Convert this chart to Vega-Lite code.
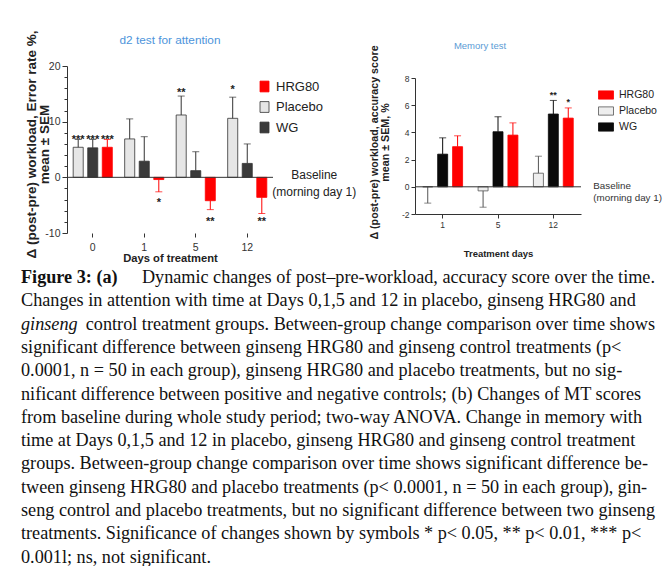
{
  "$schema": "https://vega.github.io/schema/vega-lite/v6.json",
  "background": "white",
  "padding": {"left": 21, "top": 30, "right": 2, "bottom": 0},
  "config": {
    "view": {"stroke": null},
    "font": "Liberation Sans",
    "axis": {"domainColor": "#333333", "tickColor": "#333333", "labelColor": "#333333", "titleColor": "#222222", "labelFont": "Liberation Sans", "titleFont": "Liberation Sans", "grid": false, "labelOverlap": false},
    "legend": {"labelFont": "Liberation Sans", "labelColor": "#222222"}
  },
  "datasets": {
    "att": [
      {"day": "0", "grp": "Placebo", "mean": 5.4, "err": 6.8, "star": "***", "stary": 7.5},
      {"day": "0", "grp": "WG", "mean": 5.3, "err": 6.8, "star": "***", "stary": 7.5},
      {"day": "0", "grp": "HRG80", "mean": 5.4, "err": 6.8, "star": "***", "stary": 7.5},
      {"day": "1", "grp": "Placebo", "mean": 6.9, "err": 10.5, "star": "", "stary": null},
      {"day": "1", "grp": "WG", "mean": 2.9, "err": 7.3, "star": "", "stary": null},
      {"day": "1", "grp": "HRG80", "mean": -0.4, "err": -2.6, "star": "*", "stary": -3.9},
      {"day": "5", "grp": "Placebo", "mean": 11.2, "err": 14.6, "star": "**", "stary": 15.8},
      {"day": "5", "grp": "WG", "mean": 1.2, "err": 4.6, "star": "", "stary": null},
      {"day": "5", "grp": "HRG80", "mean": -4.2, "err": -5.8, "star": "**", "stary": -7.3},
      {"day": "12", "grp": "Placebo", "mean": 10.6, "err": 14.4, "star": "*", "stary": 16.4},
      {"day": "12", "grp": "WG", "mean": 2.5, "err": 6.0, "star": "", "stary": null},
      {"day": "12", "grp": "HRG80", "mean": -3.6, "err": -6.5, "star": "**", "stary": -7.3}
    ],
    "mem": [
      {"day": "1", "grp": "Placebo", "mean": 0, "err": -1.2, "star": "", "stary": null},
      {"day": "1", "grp": "WG", "mean": 2.4, "err": 3.6, "star": "", "stary": null},
      {"day": "1", "grp": "HRG80", "mean": 2.95, "err": 3.75, "star": "", "stary": null},
      {"day": "5", "grp": "Placebo", "mean": -0.3, "err": -1.5, "star": "", "stary": null},
      {"day": "5", "grp": "WG", "mean": 4.05, "err": 5.15, "star": "", "stary": null},
      {"day": "5", "grp": "HRG80", "mean": 3.8, "err": 4.7, "star": "", "stary": null},
      {"day": "12", "grp": "Placebo", "mean": 1.0, "err": 2.25, "star": "", "stary": null},
      {"day": "12", "grp": "WG", "mean": 5.35, "err": 6.35, "star": "**", "stary": 6.95},
      {"day": "12", "grp": "HRG80", "mean": 5.05, "err": 5.8, "star": "*", "stary": 6.4}
    ],
    "cap": [
      {"line": 1, "seg": "Figure 3: (a)", "style": "bold", "side": 0},
      {"line": 1, "seg": "Dynamic changes of post–pre-workload, accuracy score over the time.", "style": "normal", "side": 1},
      {"line": 2, "seg": "Changes in attention with time at Days 0,1,5 and 12 in placebo, ginseng HRG80 and", "style": "normal", "side": 0},
      {"line": 3, "seg": "ginseng", "style": "italic", "side": 0},
      {"line": 3, "seg": "control treatment groups. Between-group change comparison over time shows", "style": "normal", "side": 1},
      {"line": 4, "seg": "significant difference between ginseng HRG80 and ginseng control treatments (p<", "style": "normal", "side": 0},
      {"line": 5, "seg": "0.0001, n = 50 in each group), ginseng HRG80 and placebo treatments, but no sig-", "style": "normal", "side": 0},
      {"line": 6, "seg": "nificant difference between positive and negative controls; (b) Changes of MT scores", "style": "normal", "side": 0},
      {"line": 7, "seg": "from baseline during whole study period; two-way ANOVA. Change in memory with", "style": "normal", "side": 0},
      {"line": 8, "seg": "time at Days 0,1,5 and 12 in placebo, ginseng HRG80 and ginseng control treatment", "style": "normal", "side": 0},
      {"line": 9, "seg": "groups. Between-group change comparison over time shows significant difference be-", "style": "normal", "side": 0},
      {"line": 10, "seg": "tween ginseng HRG80 and placebo treatments (p< 0.0001, n = 50 in each group), gin-", "style": "normal", "side": 0},
      {"line": 11, "seg": "seng control and placebo treatments, but no significant difference between two ginseng", "style": "normal", "side": 0},
      {"line": 12, "seg": "treatments. Significance of changes shown by symbols * p< 0.05, ** p< 0.01, *** p<", "style": "normal", "side": 0},
      {"line": 13, "seg": "0.001l; ns, not significant.", "style": "normal", "side": 0}
    ]
  },
  "hconcat": [
    {
      "width": 206,
      "height": 167,
      "title": {"text": "d2 test for attention", "color": "#4d94db", "fontSize": 11.8, "fontWeight": "normal", "font": "Liberation Sans", "offset": -17},
      "layer": [
        {
          "data": {"name": "att"},
          "layer": [
            {
              "mark": {"type": "bar", "strokeWidth": 0.8},
              "encoding": {
                "x": {"field": "day", "type": "nominal", "sort": ["0", "1", "5", "12"], "scale": {"paddingInner": 0.24, "paddingOuter": 0.12}, "title": "Days of treatment", "axis": {"domain": false, "labelAngle": 0, "labelFontSize": 10.5, "tickSize": 4, "labelPadding": 5, "titleFontSize": 11.2, "titleFontWeight": "bold", "titlePadding": 0}},
                "xOffset": {"field": "grp", "type": "nominal", "sort": ["Placebo", "WG", "HRG80"], "scale": {"paddingInner": 0.31, "paddingOuter": 0}},
                "y": {"field": "mean", "type": "quantitative", "scale": {"domain": [-10, 20], "nice": false}, "title": ["Δ (post-pre) workload, Error rate %,", "mean ± SEM"], "axis": {"values": [-10, -8, -6, -4, -2, 0, 2, 4, 6, 8, 10, 12, 14, 16, 18, 20], "tickCount": 40, "labelExpr": "datum.value % 10 === 0 ? '' + datum.value : ''", "labelOverlap": false, "tickSize": {"condition": {"test": "datum.value % 10 === 0", "value": 5}, "value": 3}, "labelFontSize": 10.5, "labelPadding": 2, "titleFontSize": 13.5, "titleFontWeight": "bold", "titleLineHeight": 13, "titleBaseline": "top", "titleX": -43, "titleY": 78}},
                "color": {"field": "grp", "type": "nominal", "scale": {"domain": ["HRG80", "Placebo", "WG"], "range": ["#ff0000", "#e6e6e6", "#3a3a3a"]}, "legend": {"orient": "none", "legendX": 191, "legendY": 14, "title": null, "symbolType": "M-1,-1.2H1V1.2H-1Z", "symbolSize": 81, "labelFontSize": 13, "rowPadding": 5.5, "labelOffset": 5, "symbolStrokeWidth": 0.8}},
                "stroke": {"field": "grp", "type": "nominal", "scale": {"domain": ["HRG80", "Placebo", "WG"], "range": ["#ff0000", "#333333", "#333333"]}, "legend": {"orient": "none", "legendX": 191, "legendY": 14, "title": null, "symbolType": "M-1,-1.2H1V1.2H-1Z", "symbolSize": 81, "labelFontSize": 13, "rowPadding": 5.5, "labelOffset": 5, "symbolStrokeWidth": 0.8}}
              }
            },
            {
              "mark": {"type": "rule", "strokeWidth": 1},
              "encoding": {
                "x": {"field": "day", "type": "nominal", "sort": ["0", "1", "5", "12"], "scale": {"paddingInner": 0.24, "paddingOuter": 0.12}, "title": "Days of treatment", "axis": {"domain": false, "labelAngle": 0, "labelFontSize": 10.5, "tickSize": 4, "labelPadding": 5, "titleFontSize": 11.2, "titleFontWeight": "bold", "titlePadding": 0}},
                "xOffset": {"field": "grp", "type": "nominal", "sort": ["Placebo", "WG", "HRG80"], "scale": {"paddingInner": 0.31, "paddingOuter": 0}},
                "y": {"field": "mean", "type": "quantitative", "scale": {"domain": [-10, 20], "nice": false}, "title": ["Δ (post-pre) workload, Error rate %,", "mean ± SEM"], "axis": {"values": [-10, -8, -6, -4, -2, 0, 2, 4, 6, 8, 10, 12, 14, 16, 18, 20], "tickCount": 40, "labelExpr": "datum.value % 10 === 0 ? '' + datum.value : ''", "labelOverlap": false, "tickSize": {"condition": {"test": "datum.value % 10 === 0", "value": 5}, "value": 3}, "labelFontSize": 10.5, "labelPadding": 2, "titleFontSize": 13.5, "titleFontWeight": "bold", "titleLineHeight": 13, "titleBaseline": "top", "titleX": -43, "titleY": 78}},
                "y2": {"field": "err"},
                "stroke": {"field": "grp", "type": "nominal", "scale": {"domain": ["HRG80", "Placebo", "WG"], "range": ["#ff0000", "#333333", "#333333"]}, "legend": {"orient": "none", "legendX": 191, "legendY": 14, "title": null, "symbolType": "M-1,-1.2H1V1.2H-1Z", "symbolSize": 81, "labelFontSize": 13, "rowPadding": 5.5, "labelOffset": 5, "symbolStrokeWidth": 0.8}}
              }
            },
            {
              "mark": {"type": "tick", "thickness": 1, "size": 7},
              "encoding": {
                "x": {"field": "day", "type": "nominal", "sort": ["0", "1", "5", "12"], "scale": {"paddingInner": 0.24, "paddingOuter": 0.12}, "title": "Days of treatment", "axis": {"domain": false, "labelAngle": 0, "labelFontSize": 10.5, "tickSize": 4, "labelPadding": 5, "titleFontSize": 11.2, "titleFontWeight": "bold", "titlePadding": 0}},
                "xOffset": {"field": "grp", "type": "nominal", "sort": ["Placebo", "WG", "HRG80"], "scale": {"paddingInner": 0.31, "paddingOuter": 0}},
                "y": {"field": "err", "type": "quantitative", "scale": {"domain": [-10, 20], "nice": false}, "title": ["Δ (post-pre) workload, Error rate %,", "mean ± SEM"], "axis": {"values": [-10, -8, -6, -4, -2, 0, 2, 4, 6, 8, 10, 12, 14, 16, 18, 20], "tickCount": 40, "labelExpr": "datum.value % 10 === 0 ? '' + datum.value : ''", "labelOverlap": false, "tickSize": {"condition": {"test": "datum.value % 10 === 0", "value": 5}, "value": 3}, "labelFontSize": 10.5, "labelPadding": 2, "titleFontSize": 13.5, "titleFontWeight": "bold", "titleLineHeight": 13, "titleBaseline": "top", "titleX": -43, "titleY": 78}},
                "fill": {"field": "grp", "type": "nominal", "scale": {"domain": ["HRG80", "Placebo", "WG"], "range": ["#ff0000", "#333333", "#333333"]}, "legend": null}
              }
            },
            {
              "transform": [{"filter": "datum.star !== ''"}],
              "mark": {"type": "text", "fontSize": 11, "fontWeight": "bold", "color": "#222222", "baseline": "alphabetic", "dy": 7},
              "encoding": {
                "x": {"field": "day", "type": "nominal", "sort": ["0", "1", "5", "12"], "scale": {"paddingInner": 0.24, "paddingOuter": 0.12}, "title": "Days of treatment", "axis": {"domain": false, "labelAngle": 0, "labelFontSize": 10.5, "tickSize": 4, "labelPadding": 5, "titleFontSize": 11.2, "titleFontWeight": "bold", "titlePadding": 0}},
                "xOffset": {"field": "grp", "type": "nominal", "sort": ["Placebo", "WG", "HRG80"], "scale": {"paddingInner": 0.31, "paddingOuter": 0}},
                "y": {"field": "stary", "type": "quantitative", "scale": {"domain": [-10, 20], "nice": false}, "title": ["Δ (post-pre) workload, Error rate %,", "mean ± SEM"], "axis": {"values": [-10, -8, -6, -4, -2, 0, 2, 4, 6, 8, 10, 12, 14, 16, 18, 20], "tickCount": 40, "labelExpr": "datum.value % 10 === 0 ? '' + datum.value : ''", "labelOverlap": false, "tickSize": {"condition": {"test": "datum.value % 10 === 0", "value": 5}, "value": 3}, "labelFontSize": 10.5, "labelPadding": 2, "titleFontSize": 13.5, "titleFontWeight": "bold", "titleLineHeight": 13, "titleBaseline": "top", "titleX": -43, "titleY": 78}},
                "text": {"field": "star"}
              }
            },
            {
              "data": {"values": [{"note": "Baseline\n(morning day 1)"}]},
              "mark": {"type": "rule", "color": "#333333", "strokeWidth": 1},
              "encoding": {"y": {"datum": 0}}
            },
            {
              "data": {"values": [{"note": "Baseline\n(morning day 1)"}]},
              "mark": {"type": "text", "align": "center", "baseline": "top", "dx": 67, "dy": -7, "fontSize": 12, "lineHeight": 17, "lineBreak": "\n", "color": "#222222"},
              "encoding": {"x": {"datum": "12"}, "y": {"datum": 0}, "text": {"field": "note"}}
            }
          ]
        },
        {
          "data": {"name": "cap"},
          "layer": [
            {
              "transform": [{"filter": "datum.side === 0 && datum.style === 'normal'"}],
              "mark": {"type": "text", "align": "left", "baseline": "middle", "font": "Liberation Serif", "fontSize": 18.2, "color": "#111111"},
              "encoding": {
                "x": {"field": "side", "type": "quantitative", "scale": {"domain": [0, 1], "range": [-46, 588]}, "axis": null},
                "y": {"field": "line", "type": "ordinal", "scale": {"type": "band", "paddingInner": 0, "paddingOuter": 0, "range": [200.35, 503.35]}, "axis": null},
                "text": {"field": "seg"}
              }
            },
            {
              "transform": [{"filter": "datum.style === 'bold'"}],
              "mark": {"type": "text", "align": "left", "baseline": "middle", "font": "Liberation Serif", "fontSize": 18.2, "fontWeight": "bold", "color": "#111111"},
              "encoding": {
                "x": {"field": "side", "type": "quantitative", "scale": {"domain": [0, 1], "range": [-46, 588]}, "axis": null},
                "y": {"field": "line", "type": "ordinal", "scale": {"type": "band", "paddingInner": 0, "paddingOuter": 0, "range": [200.35, 503.35]}, "axis": null},
                "text": {"field": "seg"}
              }
            },
            {
              "transform": [{"filter": "datum.style === 'italic'"}],
              "mark": {"type": "text", "align": "left", "baseline": "middle", "font": "Liberation Serif", "fontSize": 18.2, "fontStyle": "italic", "color": "#111111"},
              "encoding": {
                "x": {"field": "side", "type": "quantitative", "scale": {"domain": [0, 1], "range": [-46, 588]}, "axis": null},
                "y": {"field": "line", "type": "ordinal", "scale": {"type": "band", "paddingInner": 0, "paddingOuter": 0, "range": [200.35, 503.35]}, "axis": null},
                "text": {"field": "seg"}
              }
            },
            {
              "transform": [{"filter": "datum.side === 1"}],
              "mark": {"type": "text", "align": "right", "baseline": "middle", "font": "Liberation Serif", "fontSize": 18.2, "color": "#111111"},
              "encoding": {
                "x": {"field": "side", "type": "quantitative", "scale": {"domain": [0, 1], "range": [-46, 588]}, "axis": null},
                "y": {"field": "line", "type": "ordinal", "scale": {"type": "band", "paddingInner": 0, "paddingOuter": 0, "range": [200.35, 503.35]}, "axis": null},
                "text": {"field": "seg"}
              }
            }
          ]
        }
      ],
      "resolve": {"scale": {"x": "independent", "y": "independent"}}
    },
    {
      "width": 166,
      "height": 148,
      "title": {"text": "Memory test", "color": "#5b9bd5", "fontSize": 9.5, "fontWeight": "normal", "font": "Liberation Sans", "offset": -6, "dx": -18},
      "data": {"name": "mem"},
      "layer": [
        {
          "mark": {"type": "bar", "strokeWidth": 0.8},
          "encoding": {
            "x": {"field": "day", "type": "nominal", "sort": ["1", "5", "12"], "scale": {"paddingInner": 0.28, "paddingOuter": 0.14}, "title": "Treatment days", "axis": {"domain": true, "labelAngle": 0, "labelFontSize": 8.5, "tickSize": 4, "labelPadding": 2, "titleFontSize": 9.5, "titleFontWeight": "bold", "titlePadding": 20}},
            "xOffset": {"field": "grp", "type": "nominal", "sort": ["Placebo", "WG", "HRG80"], "scale": {"paddingInner": 0.33, "paddingOuter": 0}},
            "y": {"field": "mean", "type": "quantitative", "scale": {"domain": [-2, 8], "nice": false, "range": [148, 12]}, "title": ["Δ (post-pre) workload, accuracy score", "mean ± SEM, %"], "axis": {"values": [-2, 0, 2, 4, 6, 8], "tickCount": 40, "labelExpr": "'' + datum.value", "labelOverlap": false, "tickSize": 4, "labelFontSize": 8.5, "labelPadding": 2, "titleFontSize": 10.7, "titleFontWeight": "bold", "titleLineHeight": 11, "titleBaseline": "top", "titleX": -46, "titleY": 76}},
            "color": {"field": "grp", "type": "nominal", "scale": {"domain": ["HRG80", "Placebo", "WG"], "range": ["#ff0000", "#eeeeee", "#0a0a0a"]}, "legend": {"orient": "none", "legendX": 183, "legendY": 21, "title": null, "symbolType": "M-1,-0.55H1V0.55H-1Z", "symbolSize": 225, "labelFontSize": 10.5, "rowPadding": 2, "labelOffset": 5, "symbolStrokeWidth": 0.8}},
            "stroke": {"field": "grp", "type": "nominal", "scale": {"domain": ["HRG80", "Placebo", "WG"], "range": ["#ff0000", "#555555", "#0a0a0a"]}, "legend": {"orient": "none", "legendX": 183, "legendY": 21, "title": null, "symbolType": "M-1,-0.55H1V0.55H-1Z", "symbolSize": 225, "labelFontSize": 10.5, "rowPadding": 2, "labelOffset": 5, "symbolStrokeWidth": 0.8}}
          }
        },
        {
          "mark": {"type": "rule", "strokeWidth": 1},
          "encoding": {
            "x": {"field": "day", "type": "nominal", "sort": ["1", "5", "12"], "scale": {"paddingInner": 0.28, "paddingOuter": 0.14}, "title": "Treatment days", "axis": {"domain": true, "labelAngle": 0, "labelFontSize": 8.5, "tickSize": 4, "labelPadding": 2, "titleFontSize": 9.5, "titleFontWeight": "bold", "titlePadding": 20}},
            "xOffset": {"field": "grp", "type": "nominal", "sort": ["Placebo", "WG", "HRG80"], "scale": {"paddingInner": 0.33, "paddingOuter": 0}},
            "y": {"field": "mean", "type": "quantitative", "scale": {"domain": [-2, 8], "nice": false, "range": [148, 12]}, "title": ["Δ (post-pre) workload, accuracy score", "mean ± SEM, %"], "axis": {"values": [-2, 0, 2, 4, 6, 8], "tickCount": 40, "labelExpr": "'' + datum.value", "labelOverlap": false, "tickSize": 4, "labelFontSize": 8.5, "labelPadding": 2, "titleFontSize": 10.7, "titleFontWeight": "bold", "titleLineHeight": 11, "titleBaseline": "top", "titleX": -46, "titleY": 76}},
            "y2": {"field": "err"},
            "stroke": {"field": "grp", "type": "nominal", "scale": {"domain": ["HRG80", "Placebo", "WG"], "range": ["#ff0000", "#555555", "#0a0a0a"]}, "legend": {"orient": "none", "legendX": 183, "legendY": 21, "title": null, "symbolType": "M-1,-0.55H1V0.55H-1Z", "symbolSize": 225, "labelFontSize": 10.5, "rowPadding": 2, "labelOffset": 5, "symbolStrokeWidth": 0.8}}
          }
        },
        {
          "mark": {"type": "tick", "thickness": 1, "size": 7},
          "encoding": {
            "x": {"field": "day", "type": "nominal", "sort": ["1", "5", "12"], "scale": {"paddingInner": 0.28, "paddingOuter": 0.14}, "title": "Treatment days", "axis": {"domain": true, "labelAngle": 0, "labelFontSize": 8.5, "tickSize": 4, "labelPadding": 2, "titleFontSize": 9.5, "titleFontWeight": "bold", "titlePadding": 20}},
            "xOffset": {"field": "grp", "type": "nominal", "sort": ["Placebo", "WG", "HRG80"], "scale": {"paddingInner": 0.33, "paddingOuter": 0}},
            "y": {"field": "err", "type": "quantitative", "scale": {"domain": [-2, 8], "nice": false, "range": [148, 12]}, "title": ["Δ (post-pre) workload, accuracy score", "mean ± SEM, %"], "axis": {"values": [-2, 0, 2, 4, 6, 8], "tickCount": 40, "labelExpr": "'' + datum.value", "labelOverlap": false, "tickSize": 4, "labelFontSize": 8.5, "labelPadding": 2, "titleFontSize": 10.7, "titleFontWeight": "bold", "titleLineHeight": 11, "titleBaseline": "top", "titleX": -46, "titleY": 76}},
            "fill": {"field": "grp", "type": "nominal", "scale": {"domain": ["HRG80", "Placebo", "WG"], "range": ["#ff0000", "#555555", "#0a0a0a"]}, "legend": null}
          }
        },
        {
          "transform": [{"filter": "datum.star !== ''"}],
          "mark": {"type": "text", "fontSize": 9, "fontWeight": "bold", "color": "#222222", "baseline": "alphabetic", "dy": 5.5},
          "encoding": {
            "x": {"field": "day", "type": "nominal", "sort": ["1", "5", "12"], "scale": {"paddingInner": 0.28, "paddingOuter": 0.14}, "title": "Treatment days", "axis": {"domain": true, "labelAngle": 0, "labelFontSize": 8.5, "tickSize": 4, "labelPadding": 2, "titleFontSize": 9.5, "titleFontWeight": "bold", "titlePadding": 20}},
            "xOffset": {"field": "grp", "type": "nominal", "sort": ["Placebo", "WG", "HRG80"], "scale": {"paddingInner": 0.33, "paddingOuter": 0}},
            "y": {"field": "stary", "type": "quantitative", "scale": {"domain": [-2, 8], "nice": false, "range": [148, 12]}, "title": ["Δ (post-pre) workload, accuracy score", "mean ± SEM, %"], "axis": {"values": [-2, 0, 2, 4, 6, 8], "tickCount": 40, "labelExpr": "'' + datum.value", "labelOverlap": false, "tickSize": 4, "labelFontSize": 8.5, "labelPadding": 2, "titleFontSize": 10.7, "titleFontWeight": "bold", "titleLineHeight": 11, "titleBaseline": "top", "titleX": -46, "titleY": 76}},
            "text": {"field": "star"}
          }
        },
        {
          "data": {"values": [{"note": "Baseline\n(morning day 1)"}]},
          "mark": {"type": "rule", "color": "#333333", "strokeWidth": 1},
          "encoding": {"y": {"datum": 0}}
        },
        {
          "data": {"values": [{"note": "Baseline\n(morning day 1)"}]},
          "mark": {"type": "text", "align": "left", "baseline": "top", "dx": 40, "dy": -6, "fontSize": 9.8, "lineHeight": 12, "lineBreak": "\n", "color": "#333333"},
          "encoding": {"x": {"datum": "12"}, "y": {"datum": 0}, "text": {"field": "note"}}
        }
      ]
    }
  ],
  "spacing": 142,
  "bounds": "flush",
  "resolve": {"scale": {"color": "independent", "stroke": "independent", "fill": "independent", "x": "independent", "y": "independent", "xOffset": "independent"}, "legend": {"color": "independent", "stroke": "independent"}}
}
